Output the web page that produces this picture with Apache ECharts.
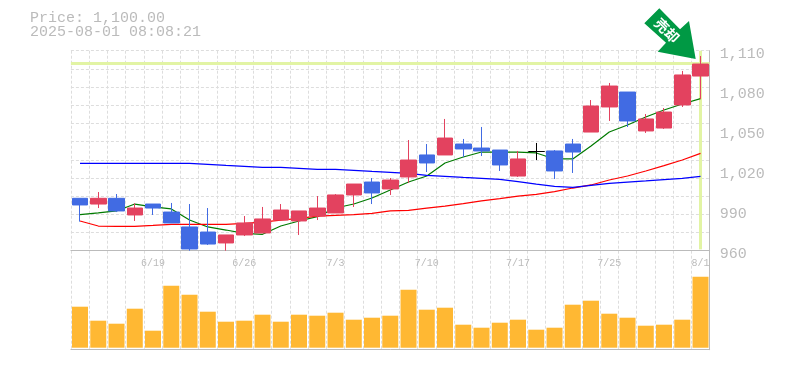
<!DOCTYPE html>
<html><head><meta charset="utf-8">
<style>html,body{margin:0;padding:0;background:#fff}#c{width:785px;height:370px}</style>
<script src="https://cdn.jsdelivr.net/npm/echarts@6/dist/echarts.min.js"></script>
</head><body><div id="c"></div>
<script>
const dates = ['6/13','6/16','6/17','6/18','6/19','6/20','6/23','6/24','6/25','6/26','6/27','6/30','7/1','7/2','7/3','7/4','7/7','7/8','7/9','7/10','7/11','7/14','7/15','7/16','7/17','7/18','7/22','7/23','7/24','7/25','7/28','7/29','7/30','7/31','8/1'];
const shownDates = ['6/19','6/26','7/3','7/10','7/17','7/25','8/1'];
const open  = [999.3,995,999.3,986.8,995,989,977.8,974,965.8,971.8,973.3,983,982.3,986,988.3,1001.8,1011.5,1006.3,1015.3,1031.8,1031.8,1040,1037,1035.5,1016,1034.4,1034.8,1040,1049,1067.8,1079,1049.8,1052,1069.3,1091];
const close = [994.3,999.3,989.8,992,992,980.8,961.3,965,971.8,980.8,983.8,990.5,989.8,992,1001.8,1010,1003.3,1013,1028,1025.8,1044.5,1036.3,1034.8,1024.3,1028.8,1034.4,1019.8,1034,1068.5,1083.5,1057.3,1058.8,1064,1091.8,1100];
const low   = [981.8,992,989,982.3,986.8,980.8,960,964.3,960,971,973.3,983,971.8,983,988.3,992.8,995,1001.8,1010.8,1019,1031.8,1030.3,1031,1019.8,1015.3,1028,1013.8,1018.3,1049,1057.3,1052.8,1048.3,1051.3,1067.8,1073.8];
const high  = [999.3,1004,1002.5,995.5,995,995.8,995,992,971.8,986,992.8,995,989.8,1001,1002.5,1010,1014.5,1014.5,1043,1040,1058.8,1043.8,1052.8,1035.5,1034.8,1040.8,1035.5,1043.8,1073,1085.8,1079,1062.5,1067,1094.8,1106];
const ma5   = [987,988.3,989.8,995,992.8,991.3,983,977.8,975.5,973,972.3,978.5,982.3,985.5,992,995,999.5,1005.5,1011.5,1016,1025.8,1030.3,1034,1034,1034,1033.3,1028.8,1028.8,1038.5,1049,1054.3,1060.3,1065.5,1070,1074];
const ma25  = [982.3,978.5,978.3,978.3,979,979.8,979.8,979.8,979.8,980.5,981.5,983,984.3,986,986.5,987,988,989.8,990.3,992,993.5,995.3,997.3,999,1001,1002.3,1004.3,1007,1009.3,1013,1016,1019.8,1023.8,1028,1033];
const ma75  = [1025.5,1025.5,1025.5,1025.5,1025.5,1025.5,1025.5,1024.8,1024,1023.3,1022.5,1022.5,1021.8,1021,1021,1020.3,1019.5,1018.8,1018,1016.5,1015.8,1015,1014.3,1013.5,1011.8,1010,1008.3,1007.5,1009,1010.5,1011.5,1012.3,1013.3,1014.3,1015.8];
const volume = [41,27,24,39,17,62,53,36,26,27,33,26,33,32,35,28,30,32,58,38,40,23,20,25,28,18,20,43,47,34,30,22,23,28,71];
const lastPriceLevel = 1100.4;

const candles = dates.map((d,i)=>{
  const item = {value:[open[i],close[i],low[i],high[i]]};
  if(open[i]===close[i]) item.itemStyle = {color:'#000',color0:'#000',borderColor:'#000',borderColor0:'#000',borderColorDoji:'#000'};
  return item;
});
const mono = '"Liberation Mono", monospace';
const grid = {lineStyle:{color:'#ddd',type:[3,2],width:1}};
const frame = {show:true,onZero:false,lineStyle:{color:'#bbb',width:1}};
const chart = echarts.init(document.getElementById('c'),null,{renderer:'canvas'});
chart.setOption({
  animation:false,
  grid:[{left:70.9,width:638.75,top:50.7,height:200},{left:70.9,width:638.75,top:250.7,height:99}],
  graphic:[
    {type:'text',left:30,top:11,style:{text:'Price: 1,100.00',font:'15px '+mono,fill:'#bbb'}},
    {type:'text',left:30,top:25,style:{text:'2025-08-01 08:08:21',font:'15px '+mono,fill:'#bbb'}},
    {type:'polygon',z:20,shape:{points:[[644.3,23.3],[659.3,8.3],[680,29.3],[689,21],[695.7,59],[657.7,51.7],[666,42.7]]},style:{fill:'#009944'}},
    {type:'text',z:21,x:667,y:30.5,rotation:-Math.PI/4,style:{text:'売却',font:'bold 14px "Noto Sans CJK JP"',fill:'#fff',align:'center',verticalAlign:'middle'}}
  ],
  xAxis:[
    {type:'category',gridIndex:0,data:dates,boundaryGap:true,axisLine:frame,axisTick:{show:false},axisLabel:{show:false},splitLine:{show:true,interval:0,...grid}},
    {type:'category',gridIndex:1,data:dates,position:'top',boundaryGap:true,axisLine:{show:false},axisTick:{show:false},
     axisLabel:{show:true,inside:true,interval:0,margin:8,color:'#bbb',fontFamily:mono,fontSize:10,formatter:v=>shownDates.includes(v)?v:''},
     splitLine:{show:true,interval:0,...grid}},
    {type:'category',gridIndex:1,data:dates,position:'bottom',axisLine:frame,axisTick:{show:false},axisLabel:{show:false},splitLine:{show:false}}
  ],
  yAxis:[
    {type:'value',gridIndex:0,min:960,max:1110,interval:30,position:'right',axisLine:frame,axisTick:{show:false},splitLine:{show:false},
     axisLabel:{margin:10,color:'#bbb',fontFamily:mono,fontSize:15,verticalAlign:'top',lineHeight:7,formatter:v=>v.toLocaleString('en-US')}},
    {type:'value',gridIndex:0,min:0,max:11,interval:1,position:'left',axisLine:{show:false},axisTick:{show:false},axisLabel:{show:false},splitLine:{show:true,...grid}},
    {type:'value',gridIndex:1,min:-2,max:97,position:'right',axisLine:frame,axisTick:{show:false},axisLabel:{show:false},splitLine:{show:false}}
  ],
  series:[
    {type:'line',xAxisIndex:0,yAxisIndex:0,z:1,data:[],silent:true,
     markLine:{z:1,silent:true,symbol:'none',label:{show:false},animation:false,lineStyle:{color:'#e2f4a4',width:3,type:'solid'},
       data:[{yAxis:lastPriceLevel},[{coord:['8/1',961]},{coord:['8/1',1110]}]]}},
    {type:'line',xAxisIndex:0,yAxisIndex:0,z:2,data:ma5,showSymbol:false,lineStyle:{color:'#007a00',width:1.2}},
    {type:'line',xAxisIndex:0,yAxisIndex:0,z:2,data:ma25,showSymbol:false,lineStyle:{color:'#ff0000',width:1.2}},
    {type:'line',xAxisIndex:0,yAxisIndex:0,z:2,data:ma75,showSymbol:false,lineStyle:{color:'#0000ff',width:1.2}},
    {type:'candlestick',xAxisIndex:0,yAxisIndex:0,z:3,barWidth:16,data:candles,
     itemStyle:{color:'#e3425f',color0:'#416be3',borderColor:'#e3425f',borderColor0:'#416be3',borderWidth:1}},
    {type:'bar',xAxisIndex:1,yAxisIndex:2,z:3,barWidth:16,data:volume,itemStyle:{color:'#ffb833'}}
  ]
});
</script></body></html>
